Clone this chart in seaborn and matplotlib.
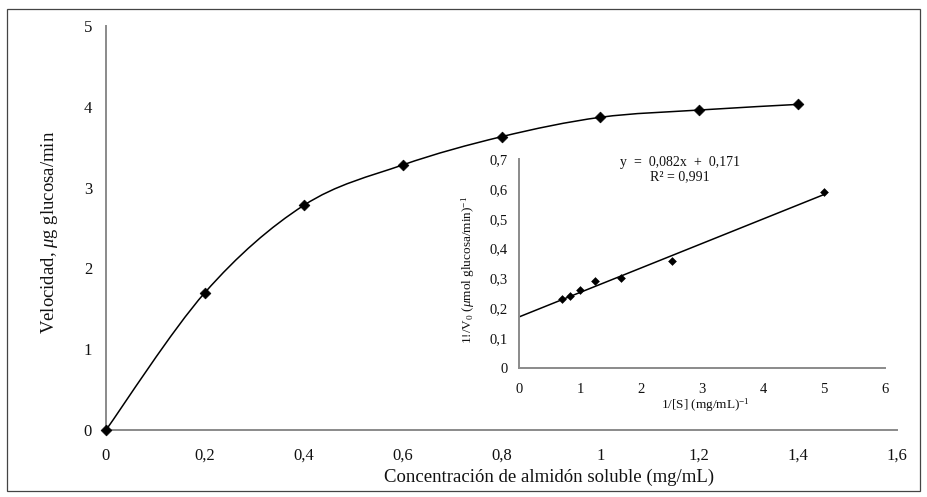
import numpy as np
import pandas as pd
import matplotlib
matplotlib.use("Agg")
import matplotlib.pyplot as plt
from matplotlib.path import Path
from matplotlib.patches import PathPatch, Rectangle
from matplotlib.ticker import FuncFormatter
import seaborn as sns

# Michaelis-Menten data: substrate concentration vs. initial velocity
concentracion = [0.0, 0.2, 0.4, 0.6, 0.8, 1.0, 1.2, 1.4]
velocidad = [0.0, 1.70, 2.78, 3.28, 3.63, 3.87, 3.96, 4.03]

# Lineweaver-Burk data (double reciprocal)
inv_s = [0.71, 0.83, 1.0, 1.25, 1.67, 2.5, 5.0]
inv_v = [0.23, 0.24, 0.26, 0.29, 0.30, 0.36, 0.59]

# Linear fit reported on the chart
pendiente = 0.082
intercepto = 0.171
r2 = 0.991

main_xticks = [0, 0.2, 0.4, 0.6, 0.8, 1.0, 1.2, 1.4, 1.6]
main_yticks = [0, 1, 2, 3, 4, 5]
inset_xticks = [0, 1, 2, 3, 4, 5, 6]
inset_yticks = [0, 0.1, 0.2, 0.3, 0.4, 0.5, 0.6, 0.7]

sns.set_theme(style="white")
plt.rcParams["font.family"] = ["Liberation Serif", "DejaVu Serif"]
plt.rcParams["mathtext.fontset"] = "custom"
plt.rcParams["mathtext.rm"] = "Liberation Serif"
plt.rcParams["mathtext.it"] = "Liberation Serif:italic"

SPINE = "#8a8a8a"


def coma(v, pos):
    s = f"{v:.1f}".rstrip("0").rstrip(".")
    return s.replace(".", ",")


def style_axes(ax, fs, ticklen, xpad, ypad):
    for side in ("top", "right"):
        ax.spines[side].set_visible(False)
    for side in ("left", "bottom"):
        ax.spines[side].set_color(SPINE)
        ax.spines[side].set_linewidth(1.4)
    ax.tick_params(axis="both", which="major", direction="out", length=ticklen,
                   width=1.4, color=SPINE, labelsize=fs, labelcolor="#111111")
    ax.tick_params(axis="x", pad=xpad)
    ax.tick_params(axis="y", pad=ypad)
    ax.xaxis.set_major_formatter(FuncFormatter(coma))
    ax.yaxis.set_major_formatter(FuncFormatter(coma))
    ax.grid(False)
    ax.set_facecolor("none")


def smooth_path(xs, ys):
    # Catmull-Rom style smoothing expressed as cubic Bezier segments
    pts = np.column_stack([xs, ys]).astype(float)
    n = len(pts)
    verts = [pts[0]]
    codes = [Path.MOVETO]
    for i in range(n - 1):
        p0 = pts[i - 1] if i > 0 else pts[i]
        p1 = pts[i]
        p2 = pts[i + 1]
        p3 = pts[i + 2] if i + 2 < n else pts[i + 1]
        c1 = p1 + (p2 - p0) / 6.0
        c2 = p2 - (p3 - p1) / 6.0
        verts += [c1, c2, p2]
        codes += [Path.CURVE4] * 3
    return Path(verts, codes)


W, H = 927, 497
fig = plt.figure(figsize=(W / 100, H / 100), dpi=100)

# Outer frame
fig.patches.append(Rectangle((7 / W, 1 - 491 / H), (920 - 7) / W, (491 - 9) / H,
                             transform=fig.transFigure, fill=False,
                             edgecolor="#444444", linewidth=0.9))

# Main plot
ax = fig.add_axes([106 / W, 1 - 430 / H, (897 - 106) / W, (430 - 26) / H])
df_main = pd.DataFrame({"S": concentracion, "V": velocidad})
ax.add_patch(PathPatch(smooth_path(df_main["S"], df_main["V"]), fill=False,
                       edgecolor="black", linewidth=1.1, transform=ax.transData))
sns.scatterplot(data=df_main, x="S", y="V", marker="D", s=30, color="black",
                edgecolor="black", linewidth=0.5, ax=ax, zorder=3, clip_on=False)
ax.set_xlim(0, 1.6)
ax.set_ylim(0, 5)
ax.set_xticks(main_xticks)
ax.set_yticks(main_yticks)
style_axes(ax, 12, 4, 9, 6)
ax.set_xlabel("Concentración de almidón soluble (mg/mL)", fontsize=13.5, color="#111111")
ax.set_ylabel(r"Velocidad, $\mu$g glucosa/min", fontsize=13.5, color="#111111")
ax.xaxis.set_label_coords(0.56, -0.095)
ax.yaxis.set_label_coords(-0.058, 0.49)

# Inset: Lineweaver-Burk plot
axi = fig.add_axes([519 / W, 1 - 368 / H, (885 - 519) / W, (368 - 159) / H])
df_lb = pd.DataFrame({"invS": inv_s, "invV": inv_v})
x_fit = np.array([0.0, max(inv_s)])
df_fit = pd.DataFrame({"x": x_fit, "y": pendiente * x_fit + intercepto})
sns.lineplot(data=df_fit, x="x", y="y", color="black", linewidth=1.1, ax=axi)
sns.scatterplot(data=df_lb, x="invS", y="invV", marker="D", s=16, color="black",
                edgecolor="black", linewidth=0.4, ax=axi, zorder=3)
axi.set_xlim(0, 6)
axi.set_ylim(0, 0.7)
axi.set_xticks(inset_xticks)
axi.set_yticks(inset_yticks)
style_axes(axi, 10.5, 4, 7, 4)
axi.set_xlabel(r"1/[S] (mg/mL)$^{-1}$", fontsize=9.5, color="#111111")
axi.set_ylabel(r"1!/V$_0$ ($\mu$mol glucosa/min)$^{-1}$", fontsize=9.5, color="#111111")
axi.xaxis.set_label_coords(0.51, -0.135)
axi.yaxis.set_label_coords(-0.115, 0.47)

eq = f"y  =  {pendiente:.3f}x  +  {intercepto:.3f}".replace(".", ",")
axi.text(0.44, 0.985, eq, transform=axi.transAxes, ha="center", va="center",
         fontsize=10, color="#111111")
axi.text(0.44, 0.915, f"R² = {r2:.3f}".replace(".", ","), transform=axi.transAxes,
         ha="center", va="center", fontsize=10, color="#111111")

fig.savefig("out.png", dpi=100, facecolor="white")
